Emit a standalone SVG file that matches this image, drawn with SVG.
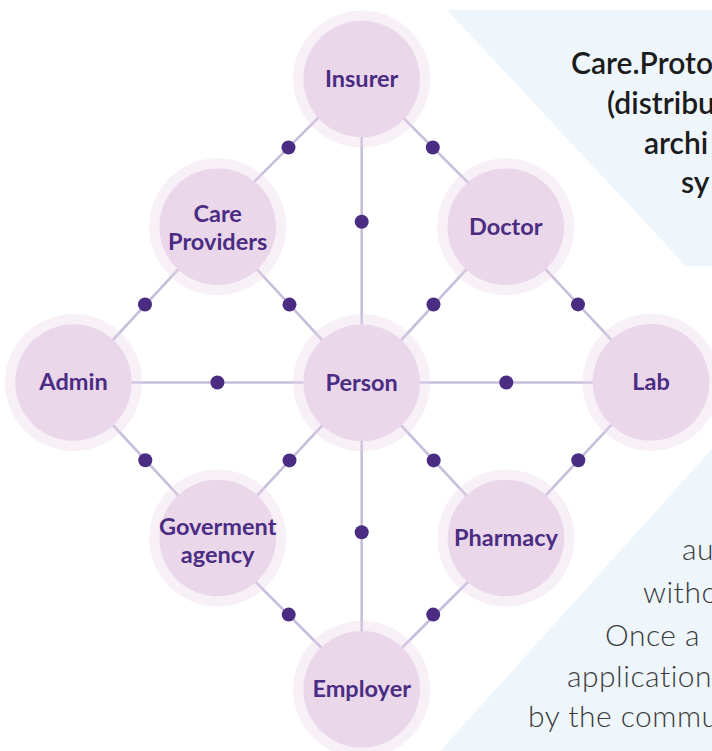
<svg xmlns="http://www.w3.org/2000/svg" width="712" height="751" viewBox="0 0 712 751">
<style>
.bg{fill:#eef6fc}
.halo{fill:#e9d4e8;fill-opacity:0.35}
.core{fill:#ebd7ea}
.lbl{font-family:Lato,"Open Sans","Liberation Sans",sans-serif;font-weight:700;font-size:23.5px;fill:#4a2d83;text-anchor:middle}
.link{stroke:#c7bedb;stroke-width:2.6;fill:none}
.dot{fill:#4a2d83}
.head{font-family:Lato,"Open Sans","Liberation Sans",sans-serif;font-weight:600;font-size:30px;fill:#1c1c1c}
.body{font-family:Lato,"Open Sans","Liberation Sans",sans-serif;font-weight:300;font-size:30px;letter-spacing:0.5px;fill:#3c3c3c}
</style>
<rect width="712" height="751" fill="#ffffff"/>
<g id="panels">
<polygon class="bg" points="447,10 720,10 720,266 686,266"/>
<polygon class="bg" points="712,449 720,449 720,760 432,760"/>
</g>
<g id="panel-text">
<text class="head" x="571" y="74">Care.Proto</text>
<text class="head" x="607" y="114">(distribu</text>
<text class="head" x="644" y="154">archi</text>
<text class="head" x="681" y="193">sy</text>
<text class="body" x="682" y="560">au</text>
<text class="body" x="643" y="603">witho</text>
<text class="body" x="605" y="646">Once a</text>
<text class="body" x="567" y="687">application</text>
<text class="body" x="528" y="727">by the commu</text>
</g>
<g id="connectors">
<line class="link" x1="361.7" y1="79" x2="361.7" y2="383"/>
<line class="link" x1="361.7" y1="383" x2="361.7" y2="689"/>
<line class="link" x1="73.5" y1="382.5" x2="361.7" y2="382.5"/>
<line class="link" x1="361.7" y1="382.5" x2="651" y2="382.5"/>
<line class="link" x1="217.5" y1="218.5" x2="361.5" y2="74.5"/>
<line class="link" x1="361.7" y1="76.3" x2="505.8" y2="220.4"/>
<line class="link" x1="217.7" y1="226.7" x2="73.5" y2="382.5"/>
<line class="link" x1="217.7" y1="226.7" x2="361.7" y2="383"/>
<line class="link" x1="505.8" y1="226.7" x2="361.7" y2="383"/>
<line class="link" x1="505.8" y1="226.7" x2="651" y2="382.3"/>
<line class="link" x1="73.5" y1="382.5" x2="217.7" y2="538"/>
<line class="link" x1="361.7" y1="383" x2="217.7" y2="538"/>
<line class="link" x1="361.7" y1="383" x2="506" y2="538"/>
<line class="link" x1="651" y1="382.3" x2="506" y2="538"/>
<line class="link" x1="217.7" y1="544" x2="361.7" y2="688"/>
<line class="link" x1="506" y1="544" x2="361.7" y2="688"/>
<circle class="dot" cx="361.7" cy="221.7" r="7"/>
<circle class="dot" cx="361.7" cy="532.3" r="7"/>
<circle class="dot" cx="217.4" cy="382.5" r="7"/>
<circle class="dot" cx="506.3" cy="382.5" r="7"/>
<circle class="dot" cx="288.5" cy="147.5" r="7"/>
<circle class="dot" cx="432.8" cy="147.5" r="7"/>
<circle class="dot" cx="145" cy="304.5" r="7"/>
<circle class="dot" cx="289.5" cy="304.6" r="7"/>
<circle class="dot" cx="433.5" cy="304.5" r="7"/>
<circle class="dot" cx="578" cy="304.4" r="7"/>
<circle class="dot" cx="145.3" cy="460.2" r="7"/>
<circle class="dot" cx="289.5" cy="460.4" r="7"/>
<circle class="dot" cx="433.7" cy="460.4" r="7"/>
<circle class="dot" cx="578.3" cy="460.2" r="7"/>
<circle class="dot" cx="288.7" cy="614.6" r="7"/>
<circle class="dot" cx="433.2" cy="614.6" r="7"/>
</g>
<g id="node-insurer">
<circle class="halo" cx="361.7" cy="79" r="68.5"/>
<circle class="core" cx="361.7" cy="79" r="58.3"/>
<text class="lbl" x="361.7" y="87">Insurer</text>
</g>
<g id="node-care-providers">
<circle class="halo" cx="217.7" cy="226.7" r="68.5"/>
<circle class="core" cx="217.7" cy="226.7" r="58.3"/>
<text class="lbl" x="217.7" y="221.7">Care</text>
<text class="lbl" x="217.7" y="250">Providers</text>
</g>
<g id="node-doctor">
<circle class="halo" cx="505.8" cy="226.7" r="68.5"/>
<circle class="core" cx="505.8" cy="226.7" r="58.3"/>
<text class="lbl" x="505.8" y="234.5">Doctor</text>
</g>
<g id="node-admin">
<circle class="halo" cx="73.5" cy="382.5" r="68.5"/>
<circle class="core" cx="73.5" cy="382.5" r="58.3"/>
<text class="lbl" x="73.5" y="390.3">Admin</text>
</g>
<g id="node-person">
<circle class="halo" cx="361.7" cy="382.8" r="68.5"/>
<circle class="core" cx="361.7" cy="382.8" r="58.3"/>
<text class="lbl" x="361.7" y="390.5">Person</text>
</g>
<g id="node-lab">
<circle class="halo" cx="651" cy="382.3" r="68.5"/>
<circle class="core" cx="651" cy="382.3" r="58.3"/>
<text class="lbl" x="651" y="390.2">Lab</text>
</g>
<g id="node-goverment-agency">
<circle class="halo" cx="217.7" cy="538" r="68.5"/>
<circle class="core" cx="217.7" cy="538" r="58.3"/>
<text class="lbl" x="217.7" y="535">Goverment</text>
<text class="lbl" x="217.7" y="563.3">agency</text>
</g>
<g id="node-pharmacy">
<circle class="halo" cx="506" cy="538" r="68.5"/>
<circle class="core" cx="506" cy="538" r="58.3"/>
<text class="lbl" x="506" y="545.8">Pharmacy</text>
</g>
<g id="node-employer">
<circle class="halo" cx="361.7" cy="689.3" r="68.5"/>
<circle class="core" cx="361.7" cy="689.3" r="58.3"/>
<text class="lbl" x="361.7" y="697.2">Employer</text>
</g>
</svg>
